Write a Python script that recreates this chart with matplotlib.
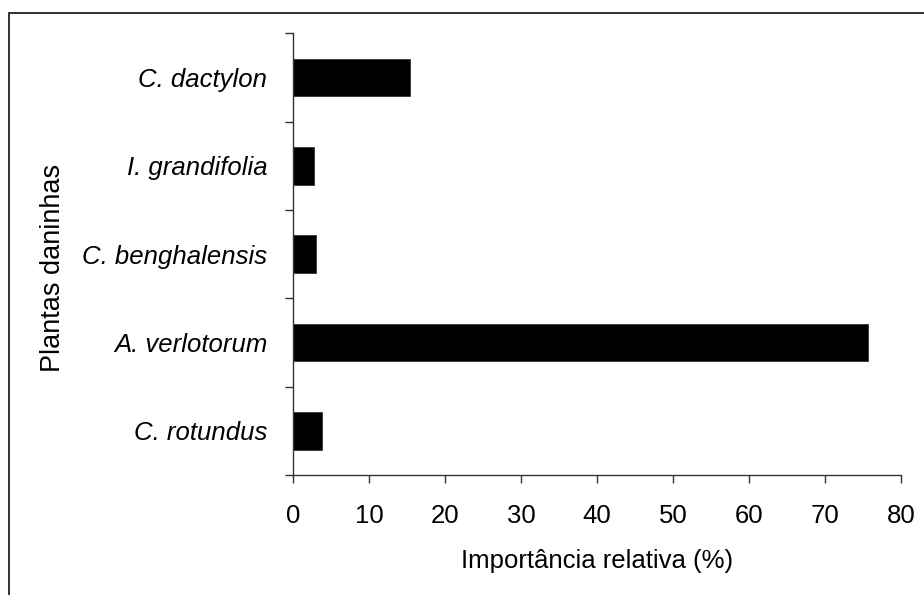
import matplotlib
matplotlib.use("Agg")
import matplotlib.pyplot as plt
from matplotlib.patches import Rectangle
import numpy as np

species = ["C. rotundus", "A. verlotorum", "C. benghalensis", "I. grandifolia", "C. dactylon"]
importance = [3.8, 75.6, 3.0, 2.8, 15.4]
x_ticks = [0, 10, 20, 30, 40, 50, 60, 70, 80]

plt.rcParams['font.family'] = ['Liberation Sans', 'DejaVu Sans']

W, H = 924, 595
fig = plt.figure(figsize=(W / 100, H / 100), dpi=100)
ax = fig.add_axes([293 / W, 1 - 475 / H, (901 - 293) / W, (475 - 33.3) / H])

pos = np.arange(len(species))
ax.barh(pos, importance, height=0.425, color='black', edgecolor='#333333', linewidth=0.6)

ax.set_xlim(0, 80)
ax.set_ylim(-0.5, len(species) - 0.5)
ax.set_xticks(x_ticks)
ax.set_xticklabels([str(t) for t in x_ticks], fontsize=18.5)

ax.set_yticks(np.arange(-0.5, len(species), 1.0))
ax.set_yticklabels([])
ax.set_yticks(pos, minor=True)
ax.set_yticklabels(species, minor=True, fontsize=18.5, style='italic')
ax.tick_params(axis='y', which='minor', length=0, pad=18.5)
ax.tick_params(axis='y', which='major', length=5.8, width=1, color='#333333', direction='out')
ax.tick_params(axis='x', which='major', length=5.8, width=1, color='#333333', direction='out', pad=15)

for s in ['top', 'right']:
    ax.spines[s].set_visible(False)
for s in ['left', 'bottom']:
    ax.spines[s].set_color('#333333')
    ax.spines[s].set_linewidth(1)

ax.set_xlabel("Importância relativa (%)", fontsize=18.5, labelpad=15.5)
fig.text(53 / W, 1 - 268 / H, "Plantas daninhas", rotation=90, fontsize=19.5, ha='center', va='center')

frame = Rectangle((9 / W, -0.5), 2.0, 0.5 + 1 - 13 / H, transform=fig.transFigure,
                  fill=False, edgecolor='#222222', linewidth=1.3, clip_on=False)
fig.patches.append(frame)

fig.savefig("out.png", dpi=100)
